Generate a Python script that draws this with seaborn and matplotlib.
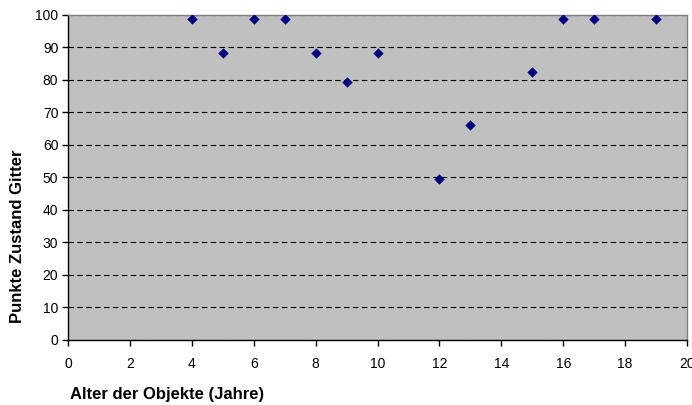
import matplotlib
matplotlib.use("Agg")
import matplotlib.pyplot as plt
import seaborn as sns
import pandas as pd

alter = [4, 5, 6, 7, 8, 9, 10, 12, 13, 15, 16, 17, 19]
punkte = [98.8, 88.2, 98.8, 98.8, 88.2, 79.4, 88.2, 49.5, 66.0, 82.4, 98.8, 98.8, 98.8]
x_ticks = [0, 2, 4, 6, 8, 10, 12, 14, 16, 18, 20]
y_ticks = [0, 10, 20, 30, 40, 50, 60, 70, 80, 90, 100]

sns.set_theme(style="white")
plt.rcParams['font.family'] = ['Liberation Sans', 'DejaVu Sans']
plt.rcParams['text.color'] = 'black'

df = pd.DataFrame({"Alter": alter, "Punkte": punkte})

fig = plt.figure(figsize=(6.92, 4.05), dpi=100)
ax = fig.add_axes([0.0983, 0.1605, 0.8945, 0.8025])
ax.set_facecolor("#C0C0C0")

sns.scatterplot(data=df, x="Alter", y="Punkte", marker="D", s=28, color="#000080",
                edgecolor="#000080", linewidth=0, ax=ax, zorder=3)

ax.set_xlim(0, 20)
ax.set_ylim(0, 100)
ax.set_xticks(x_ticks)
ax.set_yticks(y_ticks)
ax.set_xticklabels([str(v) for v in x_ticks], fontsize=10)
ax.set_yticklabels([str(v) for v in y_ticks], fontsize=10)
ax.yaxis.grid(True, color="black", linestyle=(0, (5, 3)), linewidth=0.8)
ax.xaxis.grid(False)
ax.set_axisbelow(True)

for s in ["left", "bottom"]:
    ax.spines[s].set_color("black")
    ax.spines[s].set_linewidth(1.0)
for s in ["top", "right"]:
    ax.spines[s].set_color("#808080")
    ax.spines[s].set_linewidth(1.0)

ax.tick_params(axis="both", which="major", direction="out", length=4, width=1,
               color="black", bottom=True, left=True, pad=8, labelcolor="black")
ax.tick_params(axis="y", pad=3)

ax.set_xlabel("")
ax.set_ylabel("")
fig.text(0.101, 0.008, "Alter der Objekte (Jahre)", fontsize=12, fontweight="bold",
         ha="left", va="bottom", color="black")
fig.text(0.026, 0.417, "Punkte Zustand Gitter", fontsize=12, fontweight="bold",
         rotation=90, ha="center", va="center", color="black")

fig.savefig("out.png", dpi=100)
